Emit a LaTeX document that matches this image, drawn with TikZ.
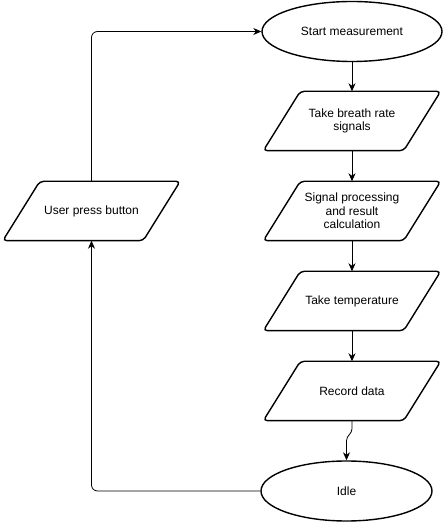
\documentclass[tikz,border=0pt]{standalone}
\usepackage{fontspec}
\setmainfont{Liberation Sans}
\usepackage{tikz}
\usetikzlibrary{shapes.geometric,arrows.meta}

\begin{document}
\begin{tikzpicture}[x=1pt,y=1pt,
  every node/.style={font=\fontsize{12}{13.5}\selectfont, align=center},
  term/.style={draw, ellipse, line width=1.4pt, minimum height=60pt, inner sep=0pt},
  io/.style={rectangle, minimum width=177pt, minimum height=59pt, inner sep=0pt,
    append after command={\pgfextra{\draw[line width=1.4pt, rounded corners=4pt]
      ([xshift=37pt]\tikzlastnode.north west) -- (\tikzlastnode.north east)
      -- ([xshift=-37pt]\tikzlastnode.south east) -- (\tikzlastnode.south west) -- cycle;}}},
  arr/.style={-{Stealth[length=8pt,width=7pt,inset=2.5pt]}, line width=0.8pt}]
  \useasboundingbox (0,0) rectangle (443,522);

  \node[term, minimum width=180pt] (start) at (352,490.5) {Start measurement};
  \node[io] (breath) at (352,401) {Take breath rate\\signals};
  \node[io] (proc) at (352,311) {Signal processing\\and result\\calculation};
  \node[io] (temp) at (352,221) {Take temperature};
  \node[io] (rec) at (352,131) {Record data};
  \node[term, minimum width=171pt] (idle) at (346.5,31) {Idle};
  \node[io] (press) at (91.5,311) {User press button};

  \draw[arr] (start) -- (breath);
  \draw[arr] (breath) -- (proc);
  \draw[arr] (proc) -- (temp);
  \draw[arr] (temp) -- (rec);
  \draw[arr] (rec.south) -- ++(0,-8) to[out=-90,in=90] ++(-5.5,-12) -- (idle.north);

  \draw[arr, rounded corners=6pt] (idle.west) -| (press.south);
  \draw[arr, rounded corners=6pt] (press.north) |- (start.west);
\end{tikzpicture}
\end{document}
